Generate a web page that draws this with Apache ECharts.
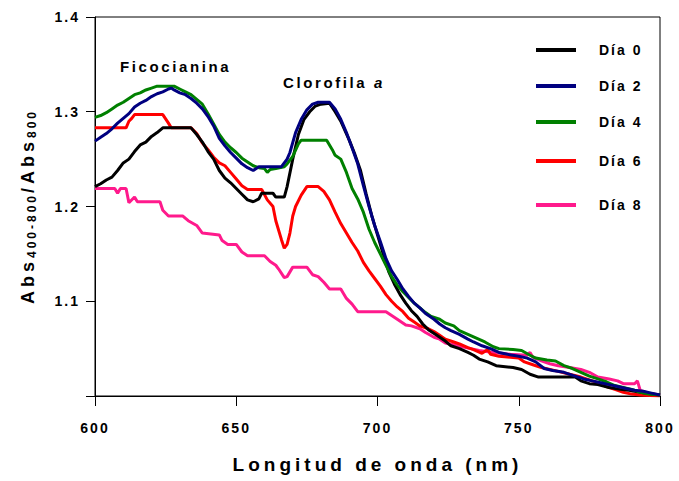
<!DOCTYPE html>
<html>
<head>
<meta charset="utf-8">
<script src="https://cdn.jsdelivr.net/npm/echarts@6/dist/echarts.min.js"></script>
<style>
  html, body { margin: 0; padding: 0; background: #fff; }
  #chart { width: 679px; height: 481px; }
</style>
</head>
<body>
<div id="chart"></div>
<script>
// Absorbance ratio spectra, 600–800 nm, by culture day: [wavelength nm, Abs400-800/Abs800]
const seriesNames = ['Día 0', 'Día 2', 'Día 4', 'Día 6', 'Día 8'];

const dia0 = [[600,1.221],[602,1.224],[604,1.228],[606,1.231],[608,1.238],[610,1.246],[612,1.250],[614,1.258],[616,1.265],[618,1.268],[620,1.274],[622,1.278],[624,1.283],[634,1.283],[636,1.276],[638,1.268],[640,1.258],[642,1.250],[644,1.238],[646,1.230],[648,1.225],[650,1.219],[652,1.213],[654,1.207],[656,1.205],[658,1.208],[659,1.214],[663,1.214],[664,1.210],[667,1.210],[668,1.221],[670,1.250],[672,1.276],[674,1.292],[676,1.300],[678,1.306],[680,1.308],[683,1.309],[685,1.300],[687,1.290],[690,1.270],[692,1.255],[694,1.238],[696,1.213],[698,1.190],[700,1.170],[702,1.150],[704,1.131],[706,1.118],[708,1.107],[710,1.098],[712,1.090],[714,1.084],[716,1.076],[718,1.070],[721,1.064],[724,1.058],[726,1.053],[729,1.050],[732,1.046],[734,1.043],[736,1.039],[739,1.036],[742,1.032],[748,1.030],[751,1.028],[754,1.023],[757,1.020],[770,1.020],[772,1.016],[775,1.013],[778,1.012],[782,1.009],[786,1.007],[789,1.006],[793,1.004],[797,1.002],[800,1.001]];

const dia2 = [[600,1.269],[602,1.273],[604,1.277],[606,1.282],[608,1.288],[610,1.293],[612,1.298],[614,1.305],[616,1.309],[618,1.312],[620,1.316],[622,1.319],[624,1.321],[626,1.324],[627,1.325],[628,1.323],[630,1.320],[632,1.318],[634,1.314],[636,1.309],[638,1.303],[640,1.295],[642,1.285],[644,1.272],[646,1.264],[648,1.257],[650,1.251],[652,1.245],[654,1.241],[656,1.238],[658,1.242],[666,1.242],[668,1.250],[669,1.257],[671,1.278],[673,1.292],[675,1.302],[677,1.308],[679,1.310],[683,1.310],[685,1.303],[687,1.292],[689,1.278],[691,1.262],[693,1.245],[695,1.222],[697,1.200],[699,1.180],[701,1.163],[703,1.145],[705,1.132],[707,1.123],[709,1.113],[711,1.105],[713,1.098],[715,1.093],[717,1.087],[720,1.081],[722,1.076],[724,1.072],[726,1.069],[729,1.065],[732,1.060],[734,1.057],[737,1.053],[740,1.050],[743,1.046],[746,1.044],[750,1.042],[753,1.040],[756,1.036],[759,1.029],[762,1.027],[766,1.025],[770,1.021],[773,1.018],[776,1.016],[779,1.014],[782,1.012],[785,1.010],[788,1.008],[791,1.006],[794,1.005],[797,1.003],[800,1.001]];

const dia4 = [[600,1.294],[602,1.296],[604,1.299],[606,1.303],[608,1.307],[610,1.310],[612,1.314],[614,1.318],[616,1.320],[618,1.323],[620,1.325],[622,1.327],[628,1.327],[630,1.324],[632,1.321],[634,1.318],[636,1.313],[638,1.308],[640,1.298],[642,1.287],[644,1.276],[646,1.268],[648,1.262],[650,1.257],[652,1.251],[654,1.247],[656,1.243],[658,1.241],[660,1.240],[661,1.236],[662,1.239],[664,1.240],[667,1.242],[668,1.245],[670,1.253],[672,1.266],[673,1.270],[682,1.270],[684,1.260],[685,1.254],[687,1.250],[689,1.236],[691,1.219],[693,1.208],[695,1.194],[697,1.176],[699,1.162],[701,1.150],[703,1.138],[705,1.126],[707,1.117],[709,1.110],[711,1.104],[713,1.098],[715,1.093],[717,1.088],[719,1.084],[722,1.081],[724,1.077],[727,1.074],[729,1.069],[732,1.065],[735,1.061],[738,1.057],[741,1.052],[743,1.050],[748,1.049],[751,1.048],[754,1.043],[756,1.040],[760,1.038],[763,1.037],[766,1.032],[769,1.029],[772,1.025],[775,1.021],[778,1.018],[781,1.015],[784,1.011],[787,1.009],[790,1.007],[793,1.004],[796,1.002],[800,1.001]];

const dia6 = [[600,1.283],[611,1.283],[612,1.290],[613,1.293],[614,1.297],[624,1.297],[626,1.288],[627,1.283],[634,1.283],[636,1.277],[638,1.267],[640,1.260],[642,1.252],[644,1.246],[646,1.243],[648,1.236],[650,1.229],[652,1.222],[654,1.218],[659,1.218],[661,1.207],[663,1.200],[664,1.185],[666,1.165],[667,1.156],[668,1.160],[669,1.172],[670,1.190],[671,1.200],[673,1.212],[675,1.221],[679,1.221],[681,1.216],[683,1.207],[685,1.194],[687,1.182],[689,1.172],[691,1.162],[693,1.153],[695,1.141],[697,1.132],[699,1.124],[701,1.116],[703,1.107],[705,1.100],[707,1.094],[709,1.089],[711,1.082],[713,1.078],[715,1.074],[718,1.071],[720,1.068],[722,1.064],[724,1.060],[727,1.057],[729,1.055],[732,1.051],[734,1.049],[737,1.045],[739,1.049],[740,1.044],[743,1.042],[747,1.041],[750,1.040],[752,1.036],[755,1.033],[758,1.030],[761,1.028],[764,1.026],[768,1.023],[772,1.020],[775,1.017],[778,1.014],[781,1.010],[784,1.007],[787,1.004],[790,1.002],[793,1.001],[800,1.000]];

const dia8 = [[600,1.219],[607,1.219],[608,1.214],[609,1.219],[611,1.219],[612,1.204],[614,1.210],[615,1.205],[623,1.205],[624,1.196],[626,1.190],[631,1.190],[633,1.185],[636,1.180],[638,1.172],[644,1.170],[645,1.164],[647,1.160],[650,1.160],[652,1.152],[654,1.148],[660,1.148],[662,1.142],[664,1.138],[665,1.134],[667,1.125],[668,1.126],[670,1.136],[675,1.136],[677,1.128],[679,1.126],[681,1.120],[683,1.113],[687,1.113],[689,1.103],[691,1.097],[693,1.089],[703,1.089],[705,1.085],[707,1.081],[710,1.075],[712,1.074],[715,1.071],[717,1.067],[720,1.062],[722,1.060],[724,1.056],[727,1.054],[730,1.052],[733,1.050],[736,1.048],[741,1.046],[747,1.044],[753,1.043],[754,1.046],[755,1.041],[758,1.037],[761,1.034],[764,1.032],[768,1.030],[772,1.028],[775,1.025],[778,1.020],[782,1.018],[785,1.016],[787,1.013],[791,1.013],[792,1.016],[793,1.006],[796,1.003],[800,1.001]];

const seriesData = [dia0, dia2, dia4, dia6, dia8];
const seriesColors = ['#000000', '#000080', '#008000', '#ff0000', '#ff1a8c'];
// drawing order, back to front
const drawOrder = [4, 3, 0, 2, 1];
// vertical centres of the legend rows
const legendRowCentres = [50, 86, 122, 161, 205];

// Spaced-out lettering: extra tracking per font size (px)
const TRACKING = { 19: 4, 18: 4, 12: 3, 14: 2, 15: 2.6 };
function trackingFor(font) {
  const m = /(\d+(?:\.\d+)?)px/.exec(font || '');
  return m ? (TRACKING[+m[1]] || 0) : 0;
}
const measureCtx = document.createElement('canvas').getContext('2d');
if (echarts.setPlatformAPI) {
  echarts.setPlatformAPI({
    measureText(text, font) {
      measureCtx.font = font || '12px sans-serif';
      const w = measureCtx.measureText(text).width;
      return { width: w + trackingFor(font) * Array.from(text).length };
    }
  });
}

const FONT = '"Liberation Sans", Arial, sans-serif';
const chart = echarts.init(document.getElementById('chart'), null, { renderer: 'svg' });

function applyTracking() {
  document.querySelectorAll('#chart svg text').forEach(el => {
    const fs = parseFloat(getComputedStyle(el).fontSize);
    el.style.letterSpacing = (TRACKING[fs] || 0) + 'px';
  });
}
chart.on('finished', applyTracking);

const option = {
  animation: false,
  backgroundColor: '#ffffff',
  grid: {
    left: 95, right: 19, top: 17, bottom: 85,
    show: true, borderColor: '#000', borderWidth: 1, backgroundColor: 'transparent'
  },
  xAxis: {
    type: 'value', min: 600, max: 800, interval: 50,
    name: 'Longitud de onda (nm)', nameLocation: 'middle', nameGap: 57,
    nameTextStyle: { color: '#000', fontFamily: FONT, fontWeight: 'bold', fontSize: 19 },
    axisLine: { show: true, onZero: false, lineStyle: { color: '#000', width: 1 } },
    axisTick: { show: true, inside: false, length: 10, lineStyle: { color: '#000' } },
    axisLabel: { color: '#000', fontFamily: FONT, fontWeight: 'bold', fontSize: 14, margin: 24 },
    splitLine: { show: false }
  },
  yAxis: {
    type: 'value', min: 1.0, max: 1.4, interval: 0.1,
    name: '{m|Abs}{s|400-800}{m|/Abs}{s|800}', nameLocation: 'middle', nameGap: 56, nameRotate: 90,
    nameTextStyle: {
      color: '#000',
      rich: {
        m: { fontFamily: FONT, fontWeight: 'bold', fontSize: 18, lineHeight: 22, color: '#000' },
        s: { fontFamily: FONT, fontWeight: 'bold', fontSize: 12, lineHeight: 12, verticalAlign: 'bottom', color: '#000' }
      }
    },
    axisLine: { show: true, lineStyle: { color: '#000', width: 1 } },
    axisTick: { show: true, inside: false, length: 9, lineStyle: { color: '#000' } },
    axisLabel: {
      color: '#000', fontFamily: FONT, fontWeight: 'bold', fontSize: 14, margin: 15,
      formatter: v => (Math.abs(v - 1) < 1e-9 ? '' : v.toFixed(1))
    },
    splitLine: { show: false }
  },
  legend: seriesNames.map((name, i) => ({
    data: [name],
    left: 536,
    top: legendRowCentres[i] - 8,
    padding: 0,
    icon: 'rect',
    itemWidth: 40,
    itemHeight: 4,
    selectedMode: false,
    textStyle: { color: '#000', fontFamily: FONT, fontWeight: 'bold', fontSize: 14, padding: [0, 0, 0, 18] }
  })),
  graphic: [
    {
      type: 'text', x: 120, y: 66, silent: true,
      style: { text: 'Ficocianina', fill: '#000', font: 'bold 15px ' + FONT, align: 'left', verticalAlign: 'middle' }
    },
    {
      type: 'text', x: 283, y: 82, silent: true,
      style: {
        text: '{n|Clorofila }{i|a}', align: 'left', verticalAlign: 'middle',
        rich: {
          n: { fill: '#000', fontFamily: FONT, fontWeight: 'bold', fontSize: 15 },
          i: { fill: '#000', fontFamily: FONT, fontWeight: 'bold', fontStyle: 'italic', fontSize: 15 }
        }
      }
    }
  ],
  series: drawOrder.map(i => ({
    name: seriesNames[i],
    type: 'line',
    data: seriesData[i],
    showSymbol: false,
    symbol: 'none',
    color: seriesColors[i],
    itemStyle: { color: seriesColors[i] },
    lineStyle: { color: seriesColors[i], width: 3 },
    z: 2
  }))
};

chart.setOption(option);
applyTracking();
setTimeout(applyTracking, 50);
</script>
</body>
</html>
